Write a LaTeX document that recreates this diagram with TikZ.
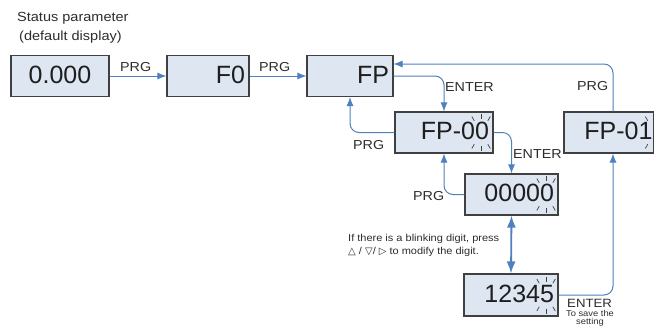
\documentclass[tikz,border=0pt]{standalone}
\usepackage{fontspec}
\setmainfont{Liberation Sans}
\newfontfamily\lblfont[FakeStretch=1.1]{Liberation Sans}
\newfontfamily\dvfont{DejaVu Sans Bold}
\usetikzlibrary{arrows.meta}
\definecolor{boxfill}{RGB}{222,230,242}
\definecolor{boxline}{RGB}{64,64,64}
\definecolor{conn}{RGB}{79,129,189}
\definecolor{txt}{RGB}{30,30,30}
\definecolor{lblc}{RGB}{45,45,45}
\newcommand\blinkmark[1]{\foreach \a in {60,90,120,240,270,300} \draw[blinkray] (#1) ++(\a:13.5) -- ++(\a:5);}
\begin{document}
\begin{tikzpicture}[x=1pt,y=-1pt,
  dispbox/.style={draw=boxline, fill=boxfill, line width=1.1pt, inner xsep=4pt, inner ysep=0pt,
    text height=18pt, text depth=4pt, minimum height=41pt, align=right, text=txt,
    font=\fontsize{25}{30}\selectfont},
  lbl/.style={text=lblc, inner sep=0pt, font=\lblfont\fontsize{13}{15}\selectfont, anchor=base west},
  small/.style={text=lblc, inner sep=0pt, font=\lblfont\fontsize{8.5}{9}\selectfont, anchor=base},
  note/.style={text=lblc, inner sep=0pt, font=\lblfont\fontsize{10}{12}\selectfont, anchor=base west},
  connector/.style={draw=conn, line width=1pt, rounded corners=9pt, -{Latex[length=9pt,width=7pt]}},
  both/.style={draw=conn, line width=1.8pt, {Latex[length=12pt,width=9pt]}-{Latex[length=12pt,width=9pt]}},
  blinkray/.style={draw=boxline, line width=0.7pt}
]
\path[use as bounding box] (0,0) rectangle (654,327);
\clip (0,0) rectangle (654,327);
\fill[white] (0,0) rectangle (654,327);

% status text
\node[lbl, font=\lblfont\fontsize{13.2}{15}\selectfont] (st1) at (17,21) {Status parameter};
\node[lbl, font=\lblfont\fontsize{13.2}{15}\selectfont] (st2) at (19,40) {(default display)};

% display boxes
\node[dispbox, text width=90pt, align=center] (b0) at (60,76) {0.000};
\node[dispbox, text width=74pt] (bF0) at (208,76) {F0};
\node[dispbox, text width=78pt] (bFP) at (350,76) {FP};
\node[dispbox, text width=90pt] (bFP00) at (444,132.5) {FP-00};
\node[dispbox, text width=87pt, inner xsep=1.5pt] (bFP01) at (609,132.5) {FP-01};
\node[dispbox, text width=85pt] (b00000) at (511.5,194.5) {00000};
\node[dispbox, text width=86pt, minimum height=42pt] (b12345) at (511,295) {12345};

% blinking marks
\coordinate (k1) at ([xshift=-12.5pt]bFP00.east);
\coordinate (k2) at ([xshift=0pt]bFP01.east);
\coordinate (k3) at ([xshift=-12.5pt]b00000.east);
\coordinate (k4) at ([xshift=-12.5pt]b12345.east);
\blinkmark{k1}
\blinkmark{k2}
\blinkmark{k3}
\blinkmark{k4}

% helper column
\coordinate (colR) at (613,0);

% connectors
\draw[connector] (b0.east) -- (bF0.west);
\draw[connector] (bF0.east) -- (bFP.west);
\draw[connector] (bFP.east) -| (bFP00.north);
\draw[connector] (colR |- bFP01.north) |- ([yshift=12pt]bFP.east);
\draw[connector] (bFP00.west) -| (bFP.south);
\draw[connector] (bFP00.east) -| (b00000.north);
\draw[connector] (b00000.west) -| (bFP00.south);
\draw[both] (b00000.south) -- (b12345.north);
\draw[connector] (b12345.east) -| (colR |- bFP01.south);

% labels
\node[lbl] (lprg1) at (120,71.5) {PRG};
\node[lbl] (lprg2) at (259,71.5) {PRG};
\node[lbl] (lent1) at (445,91) {ENTER};
\node[lbl] (lprg3) at (353,149) {PRG};
\node[lbl] (lent2) at (513,158) {ENTER};
\node[lbl] (lprg4) at (577,90) {PRG};
\node[lbl] (lprg5) at (413,200) {PRG};
\node[lbl, font=\lblfont\fontsize{12}{14}\selectfont] (lent3) at (567,307) {ENTER};
\node[small] (sv1) at (590,316.5) {To save the};
\node[small] (sv2) at (590,324.5) {setting};

% note
\node[note] (n1) at (348,241) {If there is a blinking digit, press};
\node[note] (n2) at (348,254) {{\dvfont △} / {\dvfont ▽}/ {\dvfont ▷} to modify the digit.};
\end{tikzpicture}
\end{document}
